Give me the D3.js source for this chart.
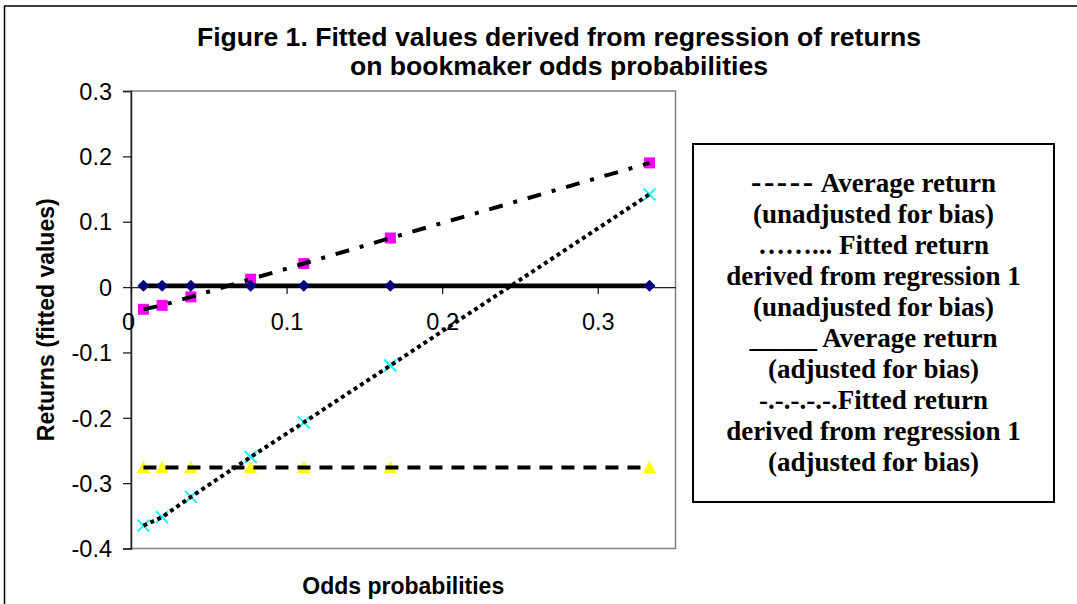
<!DOCTYPE html>
<html><head><meta charset="utf-8">
<script src="https://cdn.jsdelivr.net/npm/d3@7"></script>
<style>body{margin:0;background:#fff;} svg{display:block;}</style>
</head><body>
<svg id="chart" width="1077" height="604"></svg>
<script>
// ---- data ----
const oddsProbabilities = [0.008, 0.02, 0.0385, 0.0769, 0.1111, 0.1667, 0.3333];
const averageReturnUnadjusted = [-0.276, -0.276, -0.276, -0.276, -0.276, -0.276, -0.276];
const fittedReturnUnadjusted = [-0.365, -0.352, -0.321, -0.260, -0.207, -0.120, 0.142];
const averageReturnAdjusted = [0.002, 0.002, 0.002, 0.002, 0.002, 0.002, 0.002];
const fittedReturnAdjusted = [-0.034, -0.028, -0.015, 0.012, 0.036, 0.075, 0.190];
const xTickValues = [0, 0.1, 0.2, 0.3];
const yTickValues = [-0.4, -0.3, -0.2, -0.1, 0, 0.1, 0.2, 0.3];
const titleLines = ["Figure 1. Fitted values derived from regression of returns", "on bookmaker odds probabilities"];
const xAxisTitle = "Odds probabilities";
const yAxisTitle = "Returns (fitted values)";
// each legend line: [leading symbol text, rest of text]
const legendLines = [
  ["-----", " Average return"],
  ["", "(unadjusted for bias)"],
  ["", "……... Fitted return"],
  ["", "derived from regression 1"],
  ["", "(unadjusted for bias)"],
  ["", "_____ Average return"],
  ["", "(adjusted for bias)"],
  ["", "-.-.-.-.-.Fitted return"],
  ["", "derived from regression 1"],
  ["", "(adjusted for bias)"]
];

// ---- layout ----
const plot = {left: 131, top: 91, right: 675.5, bottom: 548.5};
const sans = "'Liberation Sans', Arial, sans-serif";
const serif = "'Liberation Serif', 'Times New Roman', serif";

const svg = d3.select("#chart");
const x = d3.scaleLinear().domain([0, 0.35]).range([plot.left, plot.right]);
const y = d3.scaleLinear().domain([-0.4, 0.3]).range([plot.bottom, plot.top]);

// outer frame (cut off at right/bottom)
svg.append("rect").attr("x", 4.5).attr("y", 6).attr("width", 1200).attr("height", 800)
  .attr("fill", "none").attr("stroke", "#000").attr("stroke-width", 1.5);

// title
const title = svg.append("text").attr("font-family", sans).attr("font-weight", "bold")
  .attr("font-size", 26.6).attr("text-anchor", "middle").attr("fill", "#000");
titleLines.forEach((t, i) => title.append("tspan").attr("x", 559).attr("y", 46 + i * 29).text(t));

// plot area border
svg.append("rect").attr("x", plot.left).attr("y", plot.top)
  .attr("width", plot.right - plot.left).attr("height", plot.bottom - plot.top)
  .attr("fill", "none").attr("stroke", "#808080").attr("stroke-width", 1.5);

// y axis
const yAxis = svg.append("g").attr("transform", `translate(${plot.left},0)`)
  .call(d3.axisLeft(y).tickValues(yTickValues).tickSize(8).tickPadding(11).tickFormat(d => String(d)));
yAxis.select(".domain").attr("stroke", "#222").attr("stroke-width", 1.5);
yAxis.selectAll(".tick line").attr("stroke", "#222").attr("stroke-width", 1.3);
yAxis.selectAll(".tick text").attr("font-family", sans).attr("font-size", 23.5).attr("fill", "#000")
  .attr("dy", "0.35em");

// x axis crossing at 0
const xAxis = svg.append("g").attr("transform", `translate(0,${y(0)})`)
  .call(d3.axisBottom(x).tickValues(xTickValues).tickSize(7).tickSizeOuter(0).tickPadding(19).tickFormat(d => String(d)));
xAxis.select(".domain").attr("stroke", "#222").attr("stroke-width", 1.3);
xAxis.selectAll(".tick line").attr("stroke", "#222").attr("stroke-width", 1.3);
xAxis.selectAll(".tick text").attr("font-family", sans).attr("font-size", 23.5).attr("fill", "#000");
xAxis.selectAll(".tick").filter(d => d === 0).select("text").attr("x", -3);

// axis titles
svg.append("text").attr("x", (plot.left + plot.right) / 2).attr("y", 594)
  .attr("text-anchor", "middle").attr("font-family", sans).attr("font-weight", "bold")
  .attr("font-size", 23).text(xAxisTitle);
svg.append("text").attr("transform", `translate(54,${(plot.top + plot.bottom) / 2}) rotate(-90)`)
  .attr("text-anchor", "middle").attr("font-family", sans).attr("font-weight", "bold")
  .attr("font-size", 23).text(yAxisTitle);

// ---- series ----
const mk = vals => oddsProbabilities.map((p, i) => ({p, v: vals[i]}));
const line = d3.line().x(d => x(d.p)).y(d => y(d.v));
const sYellow = mk(averageReturnUnadjusted);
const sCyan = mk(fittedReturnUnadjusted);
const sNavy = mk(averageReturnAdjusted);
const sMagenta = mk(fittedReturnAdjusted);

const g = svg.append("g");
// yellow triangles
g.selectAll(".tri").data(sYellow).join("path")
  .attr("transform", d => `translate(${x(d.p)},${y(d.v)})`)
  .attr("d", "M0,-6.5L6.5,5.5L-6.5,5.5Z").attr("fill", "#FFFF00");
// cyan crosses
g.selectAll(".cx").data(sCyan).join("path")
  .attr("transform", d => `translate(${x(d.p)},${y(d.v)})`)
  .attr("d", "M-6,-6L6,6M-6,6L6,-6").attr("stroke", "#00FFFF").attr("stroke-width", 1.8).attr("fill", "none");
// magenta squares
g.selectAll(".sq").data(sMagenta).join("rect")
  .attr("x", d => x(d.p) - 5.5).attr("y", d => y(d.v) - 5.5)
  .attr("width", 11).attr("height", 11).attr("fill", "#FF00FF");

// lines
g.append("path").datum(sYellow).attr("d", line).attr("fill", "none")
  .attr("stroke", "#000").attr("stroke-width", 4).attr("stroke-dasharray", "13,9");
g.append("path").datum(sCyan).attr("d", line).attr("fill", "none")
  .attr("stroke", "#000").attr("stroke-width", 4).attr("stroke-dasharray", "4,3.6");
g.append("path").datum(sMagenta).attr("d", line).attr("fill", "none")
  .attr("stroke", "#000").attr("stroke-width", 4).attr("stroke-dasharray", "14,11,4,11");
g.append("path").datum(sNavy).attr("d", line).attr("fill", "none")
  .attr("stroke", "#000").attr("stroke-width", 4.5);
// navy diamonds
g.selectAll(".dm").data(sNavy).join("path")
  .attr("transform", d => `translate(${x(d.p)},${y(d.v)})`)
  .attr("d", "M0,-6L6,0L0,6L-6,0Z").attr("fill", "#000080");

// ---- legend ----
svg.append("rect").attr("x", 693).attr("y", 144).attr("width", 361).attr("height", 358)
  .attr("fill", "#fff").attr("stroke", "#000").attr("stroke-width", 2);
const lg = svg.append("text").attr("font-family", serif).attr("font-weight", "bold")
  .attr("font-size", 27).attr("text-anchor", "middle").attr("fill", "#000");
legendLines.forEach((t, i) => {
  const first = lg.append("tspan").attr("x", 873.5).attr("y", 191.5 + i * 31.1);
  if (t[0]) {
    first.attr("font-size", 31).attr("letter-spacing", 2.6).text(t[0]);
    lg.append("tspan").text(t[1]);
  } else {
    first.text(t[1]);
  }
});
</script>
</body></html>
